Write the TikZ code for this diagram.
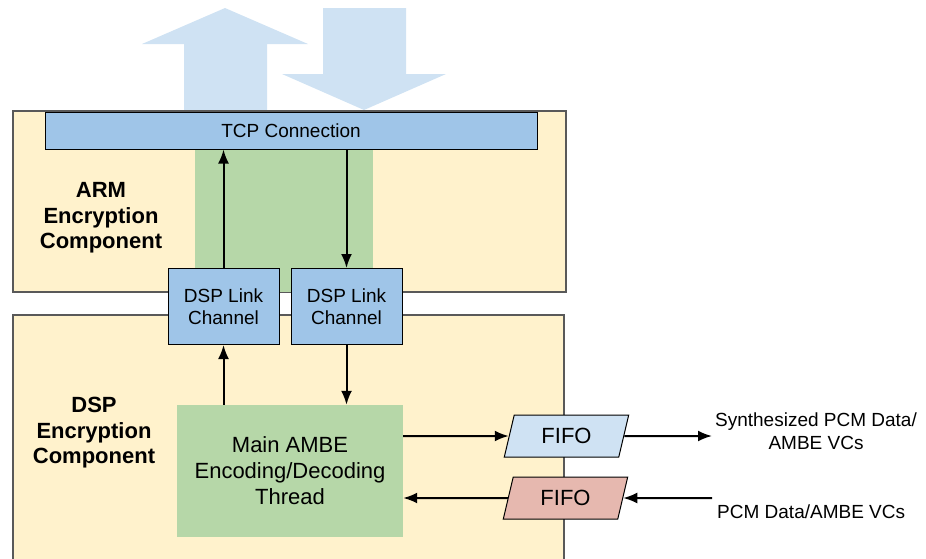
\documentclass[tikz,border=0pt]{standalone}
\usepackage{fontspec}
\setmainfont{Liberation Sans}
\usetikzlibrary{arrows.meta,shapes.geometric}
\definecolor{paleblue}{HTML}{CFE2F3}
\definecolor{midblue}{HTML}{9FC5E8}
\definecolor{palegreen}{HTML}{B6D7A8}
\definecolor{paleyellow}{HTML}{FFF2CC}
\definecolor{palered}{HTML}{E6B8AF}
\tikzset{
  compbox/.style={draw=black!65, line width=1.2pt, fill=paleyellow},
  linkbox/.style={draw=black, line width=1pt, fill=midblue, inner sep=0pt, align=center, font=\fontsize{19}{22.5}\selectfont},
  fifobox/.style={draw=black, line width=1pt, trapezium, trapezium left angle=73, trapezium right angle=107, trapezium stretches=true, minimum width=125pt, minimum height=42pt, inner sep=0pt, font=\fontsize{22}{26}\selectfont},
  complabel/.style={align=center, font=\fontsize{22}{25.5}\selectfont\bfseries},
  flow/.style={-{Latex[length=14pt,width=11pt]}, line width=2pt}
}
\begin{document}
\begin{tikzpicture}[x=1pt, y=-1pt]
			%%%%% START %%%%%
			\useasboundingbox (0, 0) rectangle (926, 558);
			
			\fill[paleblue] (184, 111) -- (184, 44) -- (142, 44) -- (225, 8) -- (308, 44) -- (267, 44) -- (267, 111) -- cycle;
			\fill[paleblue] (323, 8) -- (406, 8) -- (406, 74) -- (446, 74) -- (364, 110) -- (282, 74) -- (323, 74) -- cycle;
			
			\node[compbox, minimum width=553pt, minimum height=181pt] (arm) at (289.5, 201.5) {};
			\fill[palegreen] (195, 149) rectangle (373, 292);
			\node[linkbox, minimum width=492pt, minimum height=37pt] (tcp) at (291, 130.5) {TCP Connection};
			\node[complabel] (armlabel) at (101, 218) {ARM\\Encryption\\Component};
			
			\node[compbox, minimum width=551pt, minimum height=285pt] (dsp) at (288.5, 457.5) {};
			\node[complabel] (dsplabel) at (94, 433) {DSP\\Encryption\\Component};
			
			\node[linkbox, minimum width=111pt, minimum height=76pt] (linkup) at (223.5, 306.5) {DSP Link\\Channel};
			\node[linkbox, minimum width=111pt, minimum height=76pt] (linkdown) at (346.5, 306.5) {DSP Link\\Channel};
			
			\node[fill=palegreen, minimum width=226pt, minimum height=132pt, align=center, font=\fontsize{22}{26}\selectfont] (ambe) at (290, 471) {Main AMBE\\Encoding/Decoding\\Thread};
			
			\node[fifobox, fill=paleblue] (fifoout) at (566.5, 436) {FIFO};
			\node[fifobox, fill=palered] (fifoin) at (565.5, 498) {FIFO};
			
			\node[align=center, font=\fontsize{19}{22.5}\selectfont] (outlabel) at (816, 431) {Synthesized PCM Data/\\AMBE VCs};
			\node[anchor=west, inner sep=0pt, font=\fontsize{19}{22.5}\selectfont] (inlabel) at (717, 512) {PCM Data/AMBE VCs};
			\coordinate (outend) at (712, 436);
			\coordinate (instart) at (712, 498);
			
			\draw[flow] (linkup.north) -- (linkup |- tcp.south);
			\draw[flow] (tcp.south -| linkdown) -- (linkdown.north);
			\draw[flow] (ambe.north -| linkup) -- (linkup.south);
			\draw[flow] (linkdown.south) -- (linkdown |- ambe.north);
			
			\draw[flow] (ambe.east |- fifoout) -- (fifoout);
			\draw[flow] (fifoout) -- (outend);
			\draw[flow] (instart) -- (fifoin);
			\draw[flow] (fifoin) -- (ambe.east |- fifoin);
			
			%%%%% END %%%%%
\end{tikzpicture}
\end{document}
